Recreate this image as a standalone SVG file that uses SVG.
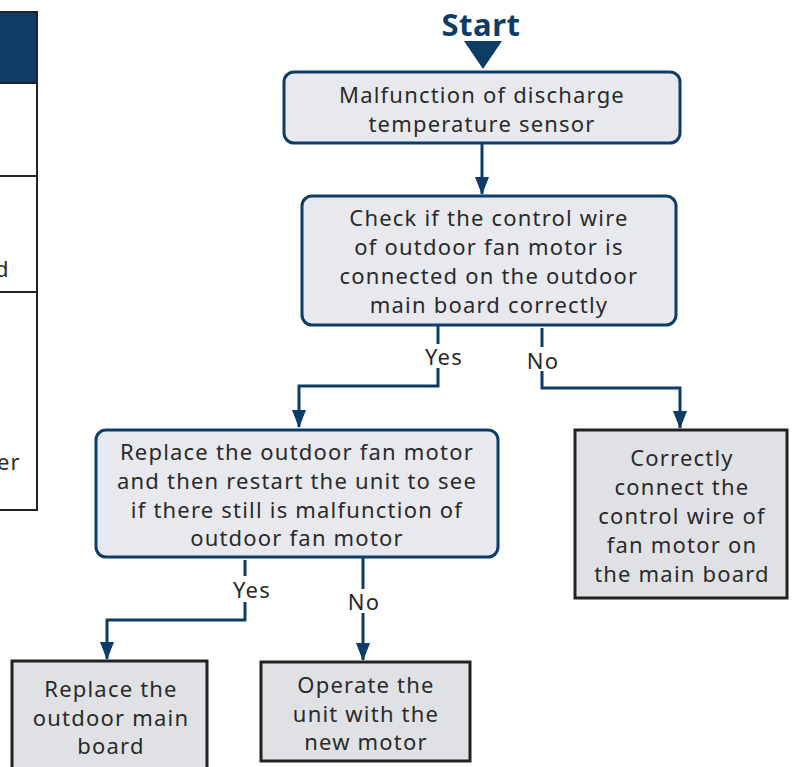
<svg xmlns="http://www.w3.org/2000/svg" width="795" height="767" viewBox="0 0 795 767">
<style>
.t{font-family:"Noto Sans","Liberation Sans",sans-serif;font-size:22px;letter-spacing:1.2px;fill:#2a2a2a;text-anchor:middle}
.dec{fill:#e8e9ee;stroke:#0d3d66;stroke-width:3}
.end{fill:#e0e1e4;stroke:#222;stroke-width:3}
.ln{fill:none;stroke:#0d3d66;stroke-width:3}
</style>
<defs>
<marker id="ah" markerWidth="14" markerHeight="18" refX="7" refY="17" orient="0" markerUnits="userSpaceOnUse" viewBox="0 0 14 18">
<path d="M0,0 L14,0 L7,18 Z" fill="#0d3d66"/>
</marker>
</defs>
<rect width="795" height="767" fill="#fff"/>
<g id="table">
<rect x="-3" y="12" width="40" height="71" fill="#0d3d66"/>
<rect x="-3" y="12" width="40" height="498" fill="none" stroke="#222" stroke-width="2"/>
<line x1="0" y1="83" x2="37" y2="83" stroke="#222" stroke-width="2"/>
<line x1="0" y1="176" x2="37" y2="176" stroke="#222" stroke-width="2"/>
<line x1="0" y1="292" x2="37" y2="292" stroke="#222" stroke-width="2"/>
<text x="-5" y="277" class="t" style="text-anchor:start">d</text>
<text x="-3" y="470" class="t" style="text-anchor:start">er</text>
</g>
<g id="start">
<text x="481" y="36" style="font-family:'Noto Sans','Liberation Sans',sans-serif;font-size:31px;font-weight:bold;fill:#0d3d66;text-anchor:middle;letter-spacing:0.5px">Start</text>
<path d="M464,41 L502,41 L483,69 Z" fill="#0d3d66"/>
</g>
<g id="connectors">
<line class="ln" x1="482" y1="143" x2="482" y2="194" marker-end="url(#ah)"/>
<polyline class="ln" points="438,326 438,344"/>
<polyline class="ln" points="438,368 438,386 299,386 299,427" marker-end="url(#ah)"/>
<polyline class="ln" points="542,328 542,347"/>
<polyline class="ln" points="542,371 542,388 680,388 680,428" marker-end="url(#ah)"/>
<polyline class="ln" points="245,560 245,576"/>
<polyline class="ln" points="245,602 245,620 107,620 107,659" marker-end="url(#ah)"/>
<polyline class="ln" points="363,558 363,589"/>
<polyline class="ln" points="363,613 363,660" marker-end="url(#ah)"/>
<text x="444" y="365" class="t">Yes</text>
<text x="543" y="369" class="t">No</text>
<text x="252" y="598" class="t">Yes</text>
<text x="364" y="610" class="t">No</text>
</g>
<g id="n1">
<rect class="dec" x="284" y="72" width="396" height="71" rx="10"/>
<text x="482" y="103" class="t">Malfunction of discharge</text>
<text x="482" y="132" class="t">temperature sensor</text>
</g>
<g id="n2">
<rect class="dec" x="302" y="196" width="374" height="129" rx="10"/>
<text x="489" y="226" class="t">Check if the control wire</text>
<text x="489" y="255" class="t">of outdoor fan motor is</text>
<text x="489" y="284" class="t">connected on the outdoor</text>
<text x="489" y="313" class="t">main board correctly</text>
</g>
<g id="n3">
<rect class="dec" x="96" y="430" width="402" height="127" rx="10"/>
<text x="297" y="460" class="t">Replace the outdoor fan motor</text>
<text x="297" y="489" class="t">and then restart the unit to see</text>
<text x="297" y="518" class="t">if there still is malfunction of</text>
<text x="297" y="546" class="t">outdoor fan motor</text>
</g>
<g id="n4">
<rect class="end" x="575" y="430" width="212" height="168"/>
<text x="682" y="466" class="t">Correctly</text>
<text x="682" y="495" class="t">connect the</text>
<text x="682" y="524" class="t">control wire of</text>
<text x="682" y="553" class="t">fan motor on</text>
<text x="682" y="582" class="t">the main board</text>
</g>
<g id="n5">
<rect class="end" x="12" y="661" width="195" height="120"/>
<text x="111" y="697" class="t">Replace the</text>
<text x="111" y="726" class="t">outdoor main</text>
<text x="111" y="754" class="t">board</text>
</g>
<g id="n6">
<rect class="end" x="261" y="662" width="209" height="99"/>
<text x="366" y="693" class="t">Operate the</text>
<text x="366" y="722" class="t">unit with the</text>
<text x="366" y="750" class="t">new motor</text>
</g>
</svg>
